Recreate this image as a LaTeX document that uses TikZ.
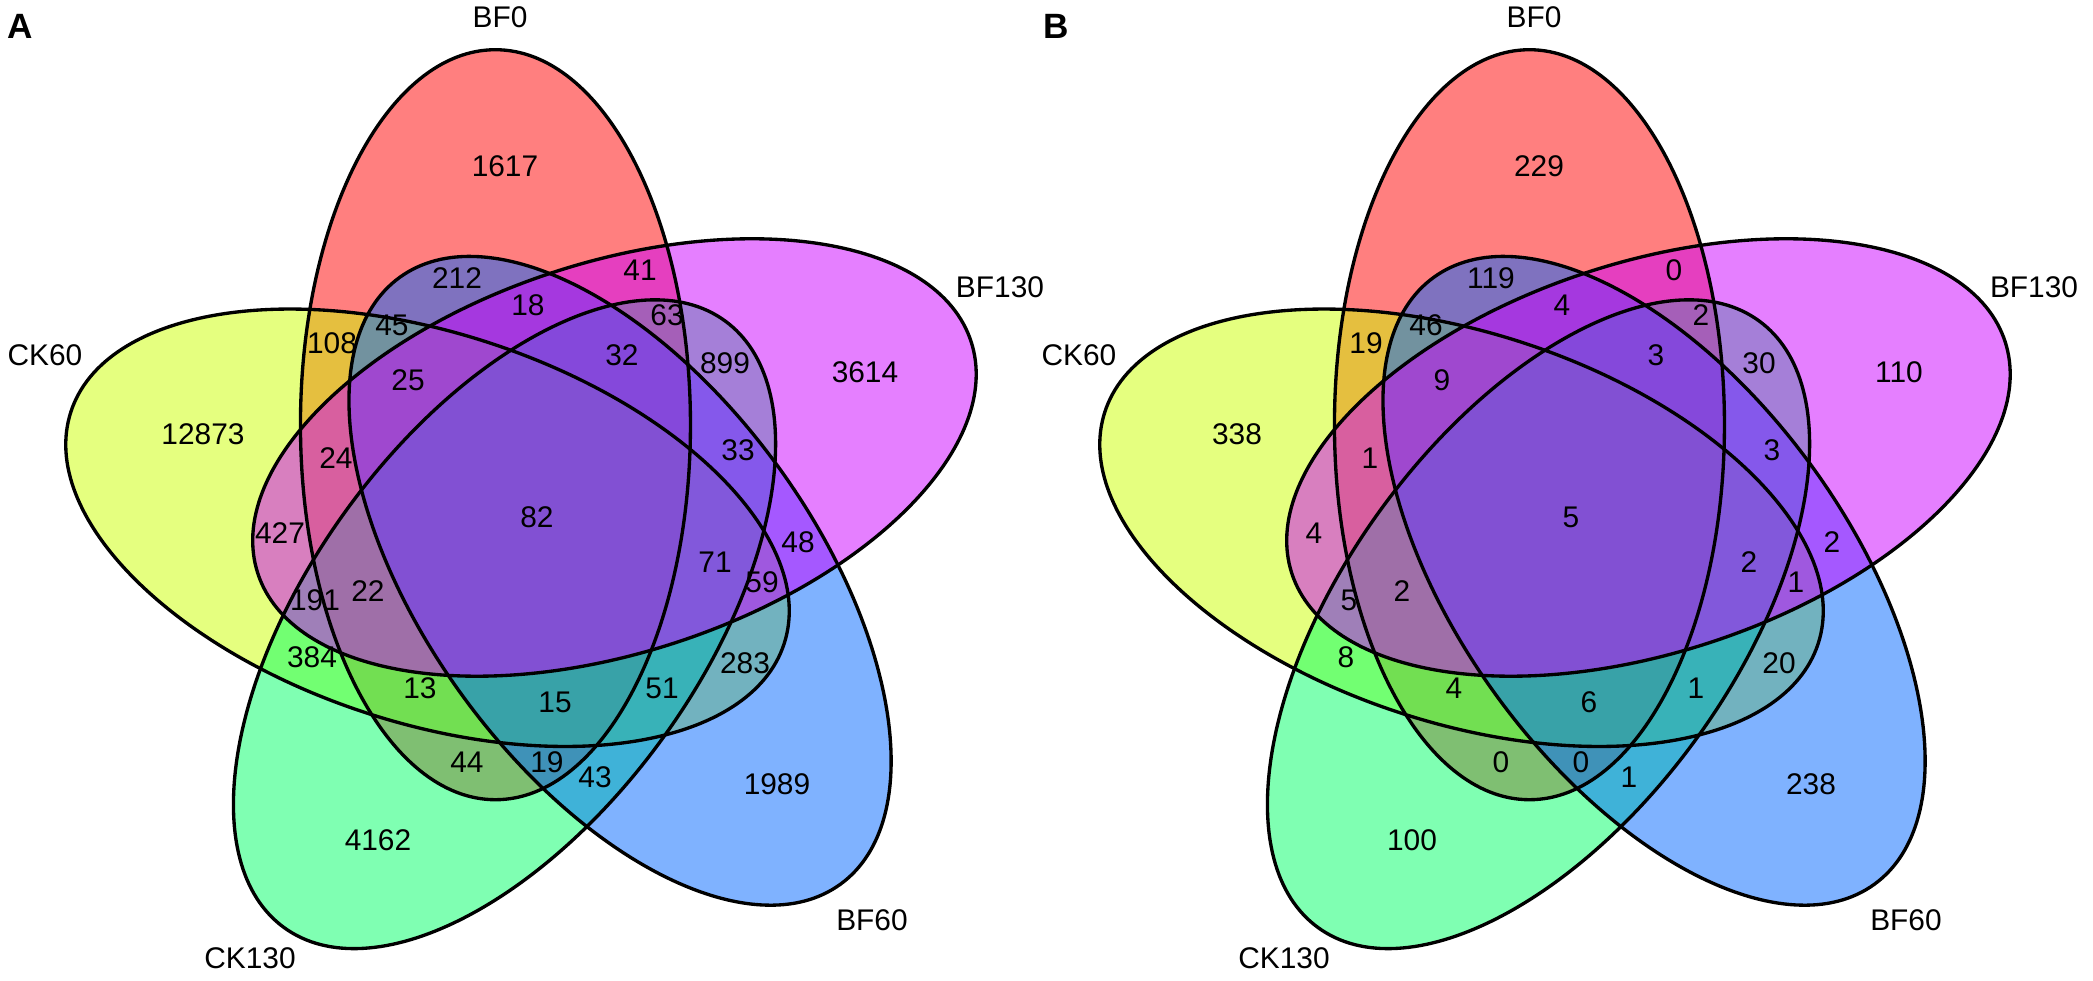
\documentclass[tikz,border=0pt]{standalone}
\usepackage{fontspec}
\setmainfont{Liberation Sans}
\definecolor{cBF0}{HTML}{FF0000}
\definecolor{cCK60}{HTML}{CCFF00}
\definecolor{cCK130}{HTML}{00FF66}
\definecolor{cBF60}{HTML}{0066FF}
\definecolor{cBF130}{HTML}{CC00FF}

\begin{document}
\begin{tikzpicture}[x=0.1mm, y=-0.1mm,
    num/.style={inner sep=0pt, font=\fontsize{8.5}{10}\selectfont},
    setname/.style={inner sep=0pt, font=\fontsize{8.5}{10}\selectfont},
    tag/.style={inner sep=0pt, font=\fontsize{10}{12}\selectfont\bfseries},
    rim/.style={line width=0.95pt}]
    \useasboundingbox[fill=white] (0,0) rectangle (2093,981);

    % five ellipses, panel A and panel B
    \foreach \p in {0,1034} {
        \begin{scope}[shift={(\p+532.4,523)}]
            \foreach \k/\c in {0/cBF0, 4/cCK60, 3/cCK130, 2/cBF60, 1/cBF130}
                \fill[\c, fill opacity=0.5, shift={(-110.6+72*\k:105)}, rotate=90-72*\k]
                    (0,0) ellipse [x radius=375, y radius=195];
            \foreach \k in {0,...,4}
                \draw[rim, shift={(-110.6+72*\k:105)}, rotate=90-72*\k]
                    (0,0) ellipse [x radius=375, y radius=195];
        \end{scope}
    }

    % region counts: x / y / panel A / panel B
    \foreach \x/\y/\na/\nb [count=\i] in {
        505/166/1617/229, 457/278/212/119, 640/270/41/0, 332/343/108/19,
        392/325/45/46, 528/305/18/4, 667/315/63/2, 622/355/32/3,
        725/363/899/30, 865/372/3614/110, 203/434/12873/338, 408/380/25/9,
        336/458/24/1, 738/450/33/3, 537/517/82/5, 280/533/427/4,
        715/562/71/2, 798/542/48/2, 762/582/59/1, 315/600/191/5,
        368/591/22/2, 312/657/384/8, 420/688/13/4, 555/702/15/6,
        662/688/51/1, 745/663/283/20, 467/762/44/0, 547/762/19/0,
        595/777/43/1, 777/784/1989/238, 378/840/4162/100} {
        \node[num] (a\i) at (\x,\y) {\na};
        \node[num] (b\i) at (\x+1034,\y) {\nb};
    }

    % set names
    \foreach \p/\q in {0/a, 1034/b} {
        \node[setname] (\q BF0) at (\p+500,17) {BF0};
        \node[setname] (\q BF130) at (\p+1000,287) {BF130};
        \node[setname] (\q BF60) at (\p+872,920) {BF60};
        \node[setname] (\q CK130) at (\p+250,958) {CK130};
        \node[setname] (\q CK60) at (\p+45,355) {CK60};
    }

    \node[tag] (tagA) at (20,26) {A}; % Panel
    \node[tag] (tagB) at (1056,26) {B}; % Panel
\end{tikzpicture}
\end{document}
